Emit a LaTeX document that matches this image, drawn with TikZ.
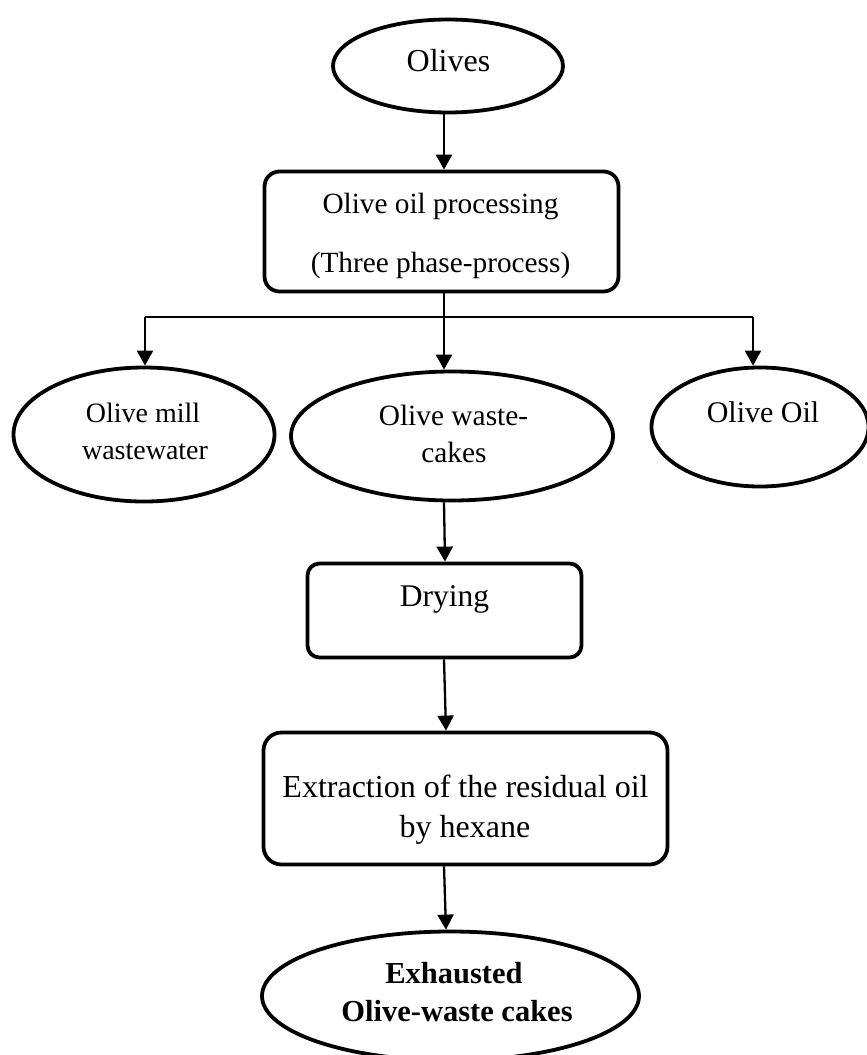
\documentclass[tikz,border=0pt]{standalone}
\usepackage{fontspec}
\setmainfont{Liberation Serif}
\usetikzlibrary{shapes.geometric,arrows.meta}
\begin{document}
\begin{tikzpicture}[x=1pt,y=1pt,
  shapeline/.style={draw=black,line width=3.8pt},
  oval/.style={shapeline,ellipse,inner sep=0pt},
  pbox/.style={shapeline,rectangle,inner sep=0pt},
  conn/.style={line width=2.3pt,-{Triangle[length=15pt,width=16pt]}},
  link/.style={line width=2.3pt},
  txt/.style={anchor=base,inner sep=0pt}]
\useasboundingbox (0,0) rectangle (867,-1055);
\clip (0,0) rectangle (867,-1055);

% shapes
\node[oval,minimum width=230pt,minimum height=93pt] (olives) at (448,-66) {};
\node[pbox,rounded corners=15pt,minimum width=354pt,minimum height=120pt] (box1) at (441.5,-231.5) {};
\node[oval,minimum width=261pt,minimum height=134pt] (left) at (144,-434.5) {};
\node[oval,minimum width=322pt,minimum height=129pt] (mid) at (452,-436) {};
\node[oval,minimum width=217pt,minimum height=119pt] (right) at (760,-427) {};
\node[pbox,rounded corners=12pt,minimum width=274pt,minimum height=94pt] (drying) at (444.5,-610.5) {};
\node[pbox,rounded corners=18pt,minimum width=404pt,minimum height=132pt] (extraction) at (465.5,-798.5) {};
\node[oval,minimum width=377pt,minimum height=129pt] (final) at (450.5,-996) {};

% texts
\node[txt,font=\fontsize{32}{36}\selectfont] (t1) at (448.5,-71) {Olives};
\node[txt,font=\fontsize{29.3}{34}\selectfont] (t2) at (440.5,-213) {Olive oil processing};
\node[txt,font=\fontsize{29.3}{34}\selectfont] (t3) at (440.5,-272) {(Three phase-process)};
\node[txt,font=\fontsize{28}{32}\selectfont] (t4) at (143,-422) {Olive mill};
\node[txt,font=\fontsize{28}{32}\selectfont] (t5) at (145,-459) {wastewater};
\node[txt,font=\fontsize{29.4}{34}\selectfont] (t6) at (453.5,-425) {Olive waste-};
\node[txt,font=\fontsize{29.4}{34}\selectfont] (t7) at (454,-462) {cakes};
\node[txt,font=\fontsize{30}{34}\selectfont] (t8) at (763,-422) {Olive Oil};
\node[txt,font=\fontsize{31.5}{36}\selectfont] (t9) at (444.5,-606) {Drying};
\node[txt,font=\fontsize{32}{36}\selectfont] (t10) at (465.5,-797) {Extraction of the residual oil};
\node[txt,font=\fontsize{32}{36}\selectfont] (t11) at (465,-837) {by hexane};
\node[txt,font=\bfseries\fontsize{30.5}{34}\selectfont] (t12) at (454,-983) {Exhausted};
\node[txt,font=\bfseries\fontsize{30.5}{34}\selectfont] (t13) at (457,-1021) {Olive-waste cakes};

% connectors
\coordinate (split) at (444,-317);
\coordinate (sl) at (145,-317);
\coordinate (sr) at (753,-317);
\draw[conn] ([xshift=-4pt]olives.south) -- ([xshift=2.5pt]box1.north);
\draw[link] ([xshift=2.5pt]box1.south) -- (split);
\draw[link] (sl) -- (sr);
\draw[conn] (sl) -- (sl |- left.north);
\draw[conn] (split) -- (split |- mid.north);
\draw[conn] (sr) -- (sr |- right.north);
\draw[conn] ([xshift=-8pt]mid.south) -- ([xshift=0.5pt]drying.north);
\draw[conn] ([xshift=-0.5pt]drying.south) -- ([xshift=-19.5pt]extraction.north);
\draw[conn] ([xshift=-21.5pt]extraction.south) -- ([xshift=-4.5pt]final.north);
\end{tikzpicture}
\end{document}
